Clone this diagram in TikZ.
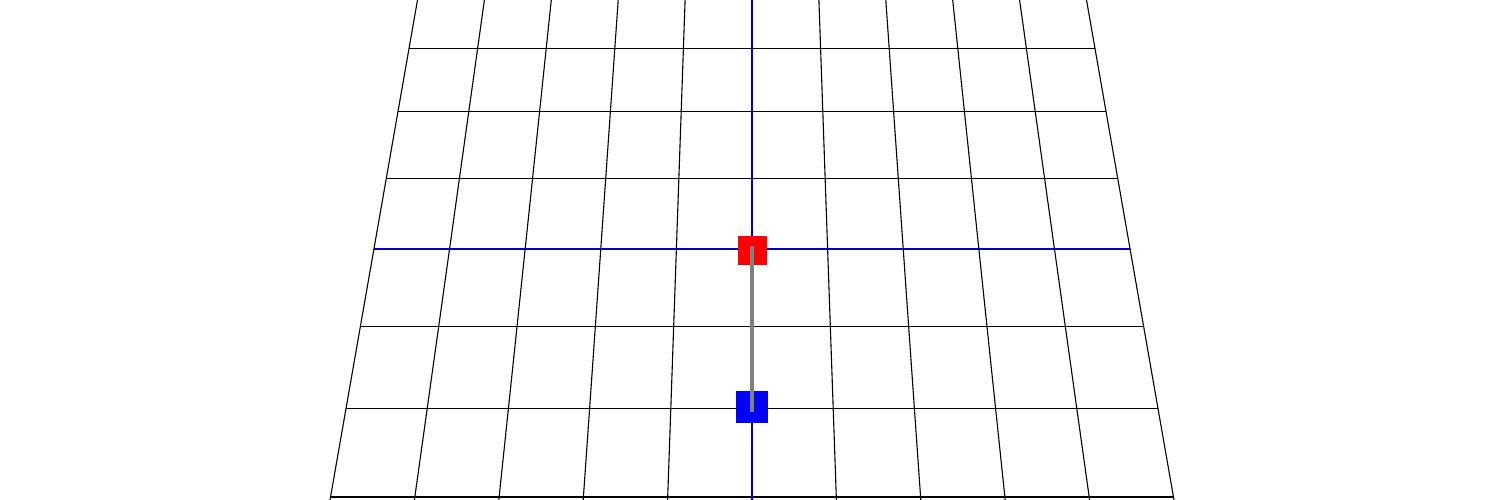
\documentclass[tikz,border=0pt]{standalone}
\usepackage{tikz}
\usetikzlibrary{calc}
\begin{document}
\begin{tikzpicture}[
    x=1pt, y=-1pt,
    gridline/.style={draw, black, line width=1.1pt},
    axisline/.style={draw, blue!80!black, line width=1.5pt},
    marker/.style={draw=none, rectangle, minimum width=#1, minimum height=#1, inner sep=0pt},
    link/.style={draw, gray, line width=4.5pt, line cap=rect}
]
\useasboundingbox (0,0) rectangle (1505,500);
\clip (0,0) rectangle (1505,500);

% columns, running towards the far edge
\foreach \i in {-5,...,5} {
    \draw[gridline] ({752+\i*66.9},0) -- ({752+\i*84.4},500);
}
% rows
\foreach \yy in {497,408.5,326.2,178.1,111.1,48.3} {
    \pgfmathsetmacro\hw{0.175*(\yy+1911)}
    \draw[gridline] ({752-\hw},\yy) -- ({752+\hw},\yy);
}

% axes
\coordinate (west) at (373.9,249.2);
\coordinate (east) at (1130.1,249.2);
\draw[axisline] (west) -- (east);
\draw[axisline, line width=1.1pt] (752,0) -- (752,500);

\node[marker=29pt, fill=red] (head) at (752,250) {};
\node[marker=32pt, fill=blue] (foot) at (752,406.5) {};
\draw[link, shorten <=-2pt, shorten >=-3pt] (head.center) -- (foot.center);

\end{tikzpicture}
\end{document}
